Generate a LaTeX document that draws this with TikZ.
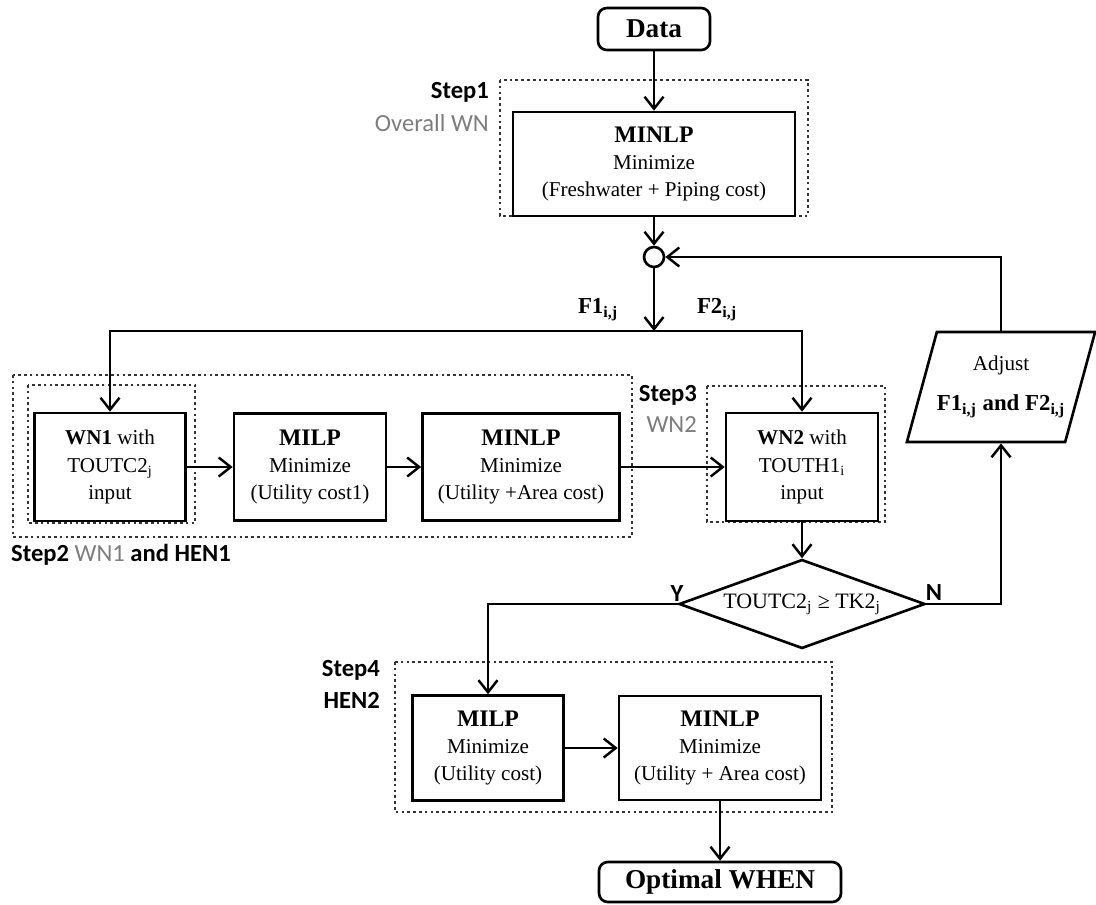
\documentclass[tikz,border=0pt]{standalone}
\usepackage{fontspec}
\setmainfont{Liberation Serif}
\newfontfamily\stepfont{Carlito}
\usetikzlibrary{shapes.geometric,arrows.meta}
\definecolor{lblgray}{RGB}{125,125,125}

\begin{document}
\begin{tikzpicture}[x=0.2mm,y=-0.2mm,
    blk/.style={draw, line width=1.5pt, align=center, inner sep=0pt,
                font=\fontsize{12}{15.5}\selectfont},
    term/.style={draw, line width=1.5pt, rounded corners=5pt, inner sep=0pt,
                 font=\bfseries\fontsize{15.5}{18}\selectfont},
    dec/.style={draw, diamond, line width=1.5pt, inner sep=0pt, shape aspect=2.8,
                font=\fontsize{12.5}{14}\selectfont},
    stepbox/.style={line width=1.5pt, dash pattern=on 1.5pt off 1.8pt, black!80},
    steplbl/.style={font=\stepfont\bfseries\fontsize{14}{16}\selectfont},
    graylbl/.style={font=\stepfont\fontsize{14}{16}\selectfont, text=lblgray},
    arr/.style={line width=1.4pt, -{Straight Barb[length=2.4mm,width=3.8mm]}}]

    \useasboundingbox (0,0) rectangle (1096,904);

    % Riquadri tratteggiati
    \draw[stepbox] (500,80) rectangle (808,216);
    \draw[stepbox] (13,375) rectangle (632,537);
    \draw[stepbox] (28,385) rectangle (195,523);
    \draw[stepbox] (707,386) rectangle (885,522);
    \draw[stepbox] (395,662) rectangle (832,812);

    % Step1
    \node[term, minimum width=22.4mm, minimum height=8.4mm] (data) at (654,29) {Data};
    \node[blk, minimum width=56.4mm, minimum height=20.8mm] (ovr) at (654,164)
        {{\bfseries\fontsize{13.5}{16}\selectfont MINLP}\\ Minimize\\ (Freshwater + Piping cost)};
    \node[steplbl, anchor=east] (s1) at (495,92) {Step1};
    \node[graylbl, anchor=east] (s1b) at (495,123) {Overall WN};

    \node[draw, circle, line width=1.5pt, minimum size=4mm, inner sep=0pt] (mix) at (654,257) {};
    \coordinate (jn) at (654,331);
    \node[font=\bfseries\fontsize{13}{15}\selectfont] (f1) at (598,310) {F1\textsubscript{i,j}};
    \node[font=\bfseries\fontsize{13}{15}\selectfont] (f2) at (717,310) {F2\textsubscript{i,j}};

    % Step2
    \node[blk, minimum width=30.2mm, minimum height=21.6mm] (wn1) at (110,467)
        {\textbf{WN1} with\\ TOUTC2\textsubscript{j}\\ input};
    \node[blk, minimum width=30.4mm, minimum height=21.4mm] (hen1a) at (310,467)
        {{\bfseries\fontsize{13.5}{16}\selectfont MILP}\\ Minimize\\ (Utility cost1)};
    \node[blk, minimum width=39.4mm, minimum height=21.4mm] (hen1b) at (521,467)
        {{\bfseries\fontsize{13.5}{16}\selectfont MINLP}\\ Minimize\\ (Utility +Area cost)};
    \node[steplbl, anchor=west] (s2) at (5,555) {Step2 {\mdseries\color{lblgray}WN1} and HEN1};

    % Step3
    \node[blk, minimum width=30.4mm, minimum height=21.6mm] (wn2) at (802,467)
        {\textbf{WN2} with\\ TOUTH1\textsubscript{i}\\ input};
    \node[steplbl, anchor=east] (s3) at (703,395) {Step3};
    \node[graylbl, anchor=east] (s3b) at (703,425) {WN2};

    % Verifica e correzione
    \node[dec, minimum width=49.2mm, minimum height=17.8mm] (chk) at (802,604)
        {TOUTC2\textsubscript{j} ≥ TK2\textsubscript{j}};
    \node[steplbl] (yes) at (677,594) {Y};
    \node[steplbl] (no) at (934,593) {N};
    \node[blk, trapezium, trapezium left angle=64, trapezium right angle=116,
          trapezium stretches=true, minimum width=37.6mm, minimum height=22mm] (adj) at (1001,387)
        {Adjust\\[7pt] {\bfseries\fontsize{13}{15}\selectfont F1\textsubscript{i,j} and F2\textsubscript{i,j}}};

    % Step4
    \node[blk, minimum width=30.2mm, minimum height=21mm] (hen2a) at (488,748)
        {{\bfseries\fontsize{13.5}{16}\selectfont MILP}\\ Minimize\\ (Utility cost)};
    \node[blk, minimum width=40.4mm, minimum height=20.8mm] (hen2b) at (720,748)
        {{\bfseries\fontsize{13.5}{16}\selectfont MINLP}\\ Minimize\\ (Utility + Area cost)};
    \node[steplbl, anchor=east] (s4) at (386,670) {Step4};
    \node[steplbl, anchor=east] (s4b) at (386,700) {HEN2};
    \node[term, minimum width=48.4mm, minimum height=8mm] (opt) at (720,882) {Optimal WHEN};

    % Frecce
    \draw[arr] (data) -- (ovr);
    \draw[arr] (ovr) -- (mix);
    \draw[arr] (mix) -- (jn);
    \draw[arr] (jn) -| (wn1.north);
    \draw[arr] (jn) -| (wn2.north);
    \draw[arr] (wn1) -- (hen1a);
    \draw[arr] (hen1a) -- (hen1b);
    \draw[arr] (hen1b) -- (wn2);
    \draw[arr] (wn2) -- (chk);
    \draw[arr] (chk.west) -| (hen2a.north);
    \draw[arr] (chk.east) -| (adj.south);
    \draw[arr] (adj.north) |- (mix.east);
    \draw[arr] (hen2a) -- (hen2b);
    \draw[arr] (hen2b) -- (opt);
\end{tikzpicture}
\end{document}
